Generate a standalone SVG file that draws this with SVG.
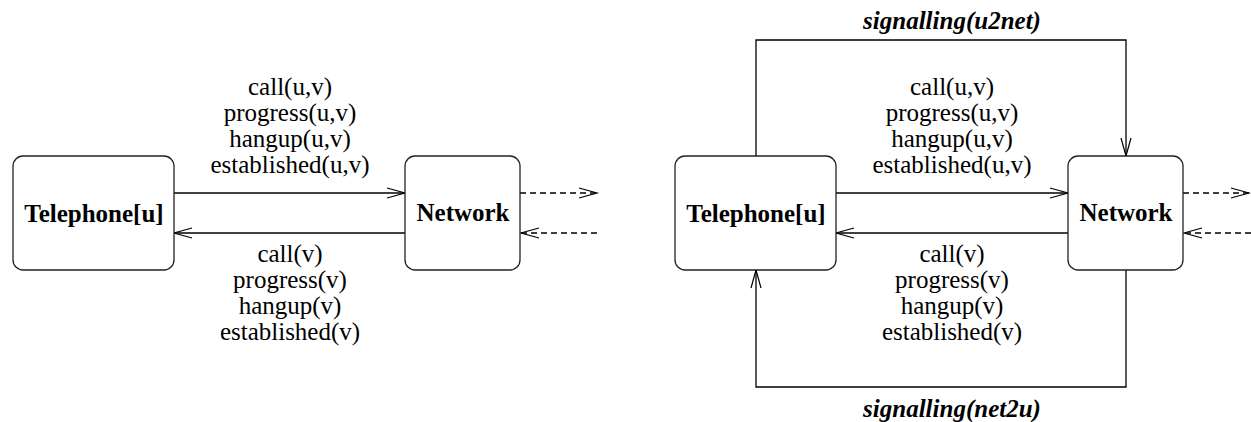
<svg xmlns="http://www.w3.org/2000/svg" width="1251" height="422" viewBox="0 0 1251 422">
<defs>
<marker id="open" viewBox="0 0 20 12" refX="19" refY="6" markerWidth="20" markerHeight="12" markerUnits="userSpaceOnUse" orient="auto" overflow="visible">
<path d="M1,1 L19,6 L1,11" fill="none" stroke="#000" stroke-width="1.2"/>
</marker>
</defs>
<style>
.box{fill:#fff;stroke:#222;stroke-width:1.3}
.line{fill:none;stroke:#000;stroke-width:1.3}
.dash{fill:none;stroke:#000;stroke-width:1.4;stroke-dasharray:6 4}
.lbl{font-family:"Liberation Serif","Times New Roman",serif;font-size:25px;text-anchor:middle;fill:#000}
.node{font-family:"Liberation Serif","Times New Roman",serif;font-size:25px;font-weight:bold;text-anchor:middle;fill:#000}
.sig{font-family:"Liberation Serif","Times New Roman",serif;font-size:25px;font-weight:bold;font-style:italic;text-anchor:middle;fill:#000}
</style>
<rect width="1251" height="422" fill="#fff"/>
<g id="connectors">
<line class="line" x1="174" y1="193" x2="405" y2="193" marker-end="url(#open)"/>
<line class="line" x1="405" y1="233" x2="174" y2="233" marker-end="url(#open)"/>
<line class="dash" x1="520" y1="193" x2="597" y2="193" marker-end="url(#open)"/>
<line class="dash" x1="597" y1="233" x2="521" y2="233" marker-end="url(#open)"/>
<line class="line" x1="836" y1="193" x2="1068" y2="193" marker-end="url(#open)"/>
<line class="line" x1="1068" y1="233" x2="836" y2="233" marker-end="url(#open)"/>
<line class="dash" x1="1183" y1="193" x2="1249" y2="193" marker-end="url(#open)"/>
<line class="dash" x1="1251" y1="233" x2="1184" y2="233" marker-end="url(#open)"/>
<polyline class="line" points="756,156 756,40 1126,40 1126,156" marker-end="url(#open)"/>
<polyline class="line" points="1126,270 1126,387 756,387 756,270" marker-end="url(#open)"/>
<g class="lbl">
<text x="290" y="95">call(u,v)</text>
<text x="290" y="121">progress(u,v)</text>
<text x="290" y="147">hangup(u,v)</text>
<text x="290" y="173">established(u,v)</text>
<text x="290" y="262">call(v)</text>
<text x="290" y="288">progress(v)</text>
<text x="290" y="314">hangup(v)</text>
<text x="290" y="340">established(v)</text>
<text x="952" y="95">call(u,v)</text>
<text x="952" y="121">progress(u,v)</text>
<text x="952" y="147">hangup(u,v)</text>
<text x="952" y="173">established(u,v)</text>
<text x="952" y="262">call(v)</text>
<text x="952" y="288">progress(v)</text>
<text x="952" y="314">hangup(v)</text>
<text x="952" y="340">established(v)</text>
</g>
<text class="sig" x="952" y="29">signalling(u2net)</text>
<text class="sig" x="952" y="417">signalling(net2u)</text>
</g>
<g id="telephone-left">
<rect class="box" x="13" y="156" width="161" height="114" rx="10"/>
<text class="node" x="94" y="222">Telephone[u]</text>
</g>
<g id="network-left">
<rect class="box" x="405" y="156" width="115" height="114" rx="10"/>
<text class="node" x="463" y="221">Network</text>
</g>
<g id="telephone-right">
<rect class="box" x="675" y="156" width="161" height="114" rx="10"/>
<text class="node" x="756" y="222">Telephone[u]</text>
</g>
<g id="network-right">
<rect class="box" x="1068" y="156" width="115" height="114" rx="10"/>
<text class="node" x="1126" y="221">Network</text>
</g>
</svg>
